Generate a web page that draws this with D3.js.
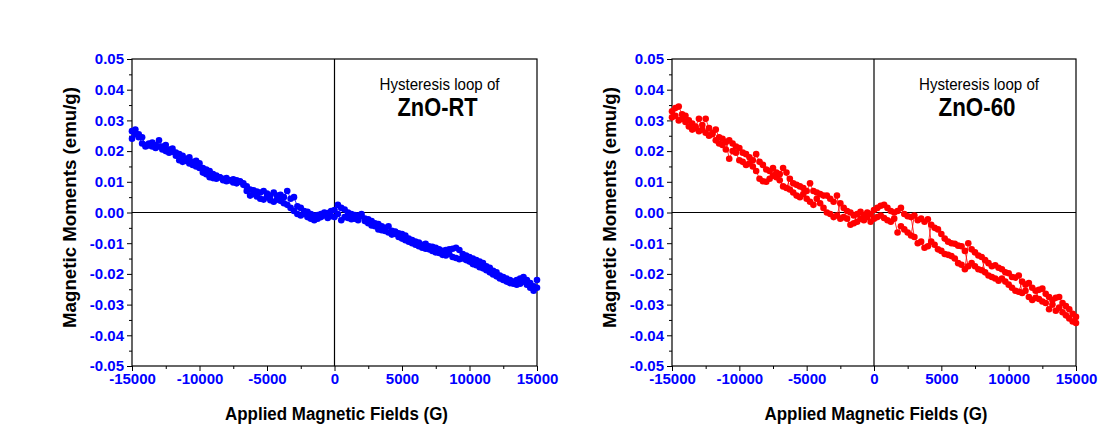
<!DOCTYPE html>
<html><head><meta charset="utf-8">
<script src="https://cdn.jsdelivr.net/npm/d3@7"></script>
<style>body{margin:0;background:#fff}svg{display:block}text{font-family:"Liberation Sans",Arial,sans-serif}</style>
</head><body>
<script>
// Applied field (G) sample grid for each branch
const fields = [-15000,-14750,-14500,-14250,-14000,-13750,-13500,-13250,-13000,-12750,-12500,-12250,-12000,-11750,-11500,-11250,-11000,-10750,-10500,-10250,-10000,-9750,-9500,-9250,-9000,-8750,-8500,-8250,-8000,-7750,-7500,-7250,-7000,-6750,-6500,-6250,-6000,-5750,-5500,-5250,-5000,-4750,-4500,-4250,-4000,-3750,-3500,-3250,-3000,-2750,-2500,-2250,-2000,-1750,-1500,-1250,-1000,-750,-500,-250,0,250,500,750,1000,1250,1500,1750,2000,2250,2500,2750,3000,3250,3500,3750,4000,4250,4500,4750,5000,5250,5500,5750,6000,6250,6500,6750,7000,7250,7500,7750,8000,8250,8500,8750,9000,9250,9500,9750,10000,10250,10500,10750,11000,11250,11500,11750,12000,12250,12500,12750,13000,13250,13500,13750,14000,14250,14500,14750,15000];

// Moments in units of 1e-3 emu/g
const rtDown = [26.5,27,25.5,24.5,22,22.5,22.8,22,23.5,21.5,22,20.5,20.8,19.5,19,18.5,17.5,18,16.5,16.8,14.5,13,12.5,11.5,11.2,12,11.5,11,11.2,10.5,10.8,10.5,10.2,9.5,8.5,7.5,7.2,6.8,6.5,7,6.2,5.5,6.5,5.5,5.8,5,7,4.5,5,2,1.5,0.5,0.2,-0.5,-1,-0.8,-0.5,0,-0.2,0.5,0.8,2.5,1.5,1,0,-0.5,-0.8,-1,-0.5,-2,-2.2,-2.8,-3.5,-3.8,-4.5,-5,-4.5,-6,-6.2,-6.8,-7,-7.5,-8.5,-9,-10.5,-11,-11.5,-11.8,-12,-11.2,-11.5,-12,-12.5,-12.2,-12,-11.8,-11.5,-12.2,-13.5,-14,-14.5,-15,-15.5,-16,-16.5,-17.5,-18,-19,-19.5,-20.5,-21,-21.5,-22,-22.5,-22,-21.5,-21,-22,-23,-24,-22];
const rtUp = [24,25.5,24.5,22.5,21.5,21.8,21.5,21,21.5,20.5,20,19.5,19.8,18.5,17,16.5,16.8,16,15.5,15,16,14.5,14,13.5,12.5,11,11.5,10.5,10.2,10.5,9.8,9.5,10,9,7,5.5,6,5.2,4.5,4.2,5,4,3.5,4.2,3.8,3,2.5,1.5,0.5,-0.5,-1,-0.5,-1.5,-2,-2.5,-2,-1.5,-1,-1.8,-1.2,-1.5,-0.5,-2.5,-1.5,-1.8,-2.2,-2,-2.5,-1.2,-2.8,-3.5,-4.2,-4.5,-5.5,-5.8,-6,-6.5,-7.2,-7,-8,-8.5,-9,-9.5,-10,-9.5,-9.8,-10.5,-10.2,-11,-12.5,-13,-13.2,-13.8,-14,-13.5,-14.5,-14.8,-15.2,-15,-15.5,-16,-16.8,-17.2,-17.8,-18.2,-18.8,-19.5,-20.2,-20.8,-21.5,-22,-22.5,-23,-23.2,-23.5,-23.2,-22.5,-23.5,-24.5,-25.5,-24.5];
const z60Down = [33,34,34.5,32,31.5,30,29,28,30.5,28.5,30.5,27.5,25.5,23.5,22.5,22,20.5,23.5,22.5,21.5,21,19.5,19,18,17,19,16.5,15.5,14,13.5,12,11.5,10.5,8.5,8,11,9.5,9,8.5,8,7,9.5,7,6.5,6,5.5,5.5,4.5,3.5,5.5,-2,-1.5,-2,-4,-3.5,-0.5,0.2,-0.8,0,-0.5,0.8,1.5,2.2,2.5,1.5,0.5,0,0.5,1.5,-0.5,-1.2,-1.5,-8,-10,-9.5,-11.5,-11,-4,-5,-5.5,-7,-8.5,-9.5,-10,-10.2,-10.8,-11,-12.5,-17.5,-16.5,-17.5,-18.5,-18.8,-15.5,-16.5,-17.5,-17.2,-18,-18.5,-19.5,-19.8,-21,-21.2,-20.5,-26.2,-25.5,-27.5,-28.5,-27.8,-25.2,-24.8,-26.5,-27.5,-28.5,-27.8,-27.5,-29.5,-30.5,-31.5,-33,-34];
const z60Up = [31,31.5,30,30.5,29.5,28,27,27.5,26.5,27,26,25,26,27,24.5,24,23,17.5,20,19.5,17,16.5,15.5,16,15,13.5,11,10.2,10,11,14.5,13,12.5,14.5,13,7.5,6.5,5.5,5,6,4.5,3.5,2.5,4.5,3,1.5,0,-0.5,-1.5,-1,3,1.5,0.5,0,-1,-3,-2,-2.5,-1.5,-3,-2,-1.5,-1,-1.8,-2.5,-3,-2,-6.5,-4.5,-5.5,-6.5,-7.5,-1,-2.5,-2,-3,-2.2,-9.5,-10.5,-12,-12.5,-13.5,-13.8,-14.2,-15,-16.5,-17,-18.5,-10,-12,-13,-14,-14.5,-19.5,-20.5,-21,-21.5,-22.2,-21.5,-22.5,-23.5,-24.5,-25.5,-25.8,-22.5,-23.5,-23,-24.5,-25.5,-28.2,-29,-29.5,-31.5,-30,-32,-31,-32.5,-33.5,-34.5,-35.5,-36];

const xTicks = [-15000,-10000,-5000,0,5000,10000,15000];
const xMinor = [-12500,-7500,-2500,2500,7500,12500];
const yTicks = [-50,-40,-30,-20,-10,0,10,20,30,40,50];
const yMinor = [-45,-35,-25,-15,-5,5,15,25,35,45];
const xTitle = "Applied Magnetic Fields (G)";
const yTitle = "Magnetic Moments (emu/g)";
const noteLine1 = "Hysteresis loop of";

const panels = [
  {name:"ZnO-RT", down:rtDown, up:rtUp, color:"#0000ff", x0:132, x1:537, nameLen:80},
  {name:"ZnO-60", down:z60Down, up:z60Up, color:"#ff0000", x0:672, x1:1076, nameLen:77}
];

const W=1117, H=439, y0=59, y1=366;
const svg = d3.select("body").append("svg").attr("width",W).attr("height",H);

panels.forEach(p=>{
  const x = d3.scaleLinear().domain([-15000,15000]).range([p.x0,p.x1]);
  const y = d3.scaleLinear().domain([-50,50]).range([y1,y0]);
  const g = svg.append("g");

  // minor ticks
  g.append("g").attr("transform",`translate(0,${y1})`)
    .call(d3.axisBottom(x).tickValues(xMinor).tickSize(3).tickFormat(""))
    .call(a=>a.select(".domain").remove());
  g.append("g").attr("transform",`translate(${p.x0},0)`)
    .call(d3.axisLeft(y).tickValues(yMinor).tickSize(3).tickFormat(""))
    .call(a=>a.select(".domain").remove());
  // major
  const ax = g.append("g").attr("transform",`translate(0,${y1})`)
    .call(d3.axisBottom(x).tickValues(xTicks).tickSize(5).tickPadding(4).tickFormat(d=>String(d)));
  ax.select(".domain").remove();
  ax.selectAll("text").attr("font-size",15).attr("font-weight","bold").attr("fill","#0000ff")
    .attr("dy",null).attr("y",null).attr("transform","translate(0,18)");
  const ay = g.append("g").attr("transform",`translate(${p.x0},0)`)
    .call(d3.axisLeft(y).tickValues(yTicks).tickSize(5).tickPadding(3).tickFormat(d=>(d/1000).toFixed(2)));
  ay.select(".domain").remove();
  ay.selectAll("text").attr("font-size",15).attr("font-weight","bold").attr("fill","#0000ff");
  g.selectAll(".tick line").attr("stroke","#000");

  // frame and zero lines
  g.append("rect").attr("x",p.x0).attr("y",y0).attr("width",p.x1-p.x0).attr("height",y1-y0)
    .attr("fill","none").attr("stroke","#000").attr("stroke-width",1.2);
  g.append("line").attr("x1",x(0)).attr("x2",x(0)).attr("y1",y0).attr("y2",y1).attr("stroke","#000").attr("stroke-width",1.2);
  g.append("line").attr("x1",p.x0).attr("x2",p.x1).attr("y1",y(0)).attr("y2",y(0)).attr("stroke","#000").attr("stroke-width",1.2);

  // data: descending branch then ascending branch
  const pts = [];
  for(let i=fields.length-1;i>=0;i--) pts.push([fields[i],p.down[i]]);
  for(let i=0;i<fields.length;i++) pts.push([fields[i],p.up[i]]);
  const line = d3.line().x(d=>x(d[0])).y(d=>y(d[1]));
  g.append("path").attr("d",line(pts)).attr("fill","none").attr("stroke",p.color).attr("stroke-width",0.8);
  g.selectAll("circle.pt").data(pts).join("circle").attr("class","pt")
    .attr("cx",d=>x(d[0])).attr("cy",d=>y(d[1])).attr("r",3.3).attr("fill",p.color);

  // annotation
  const cx = (p.x0+p.x1)/2 + 105;
  g.append("text").attr("x",cx).attr("y",90).attr("text-anchor","middle").attr("font-size",17)
    .attr("textLength",120).attr("lengthAdjust","spacingAndGlyphs").text(noteLine1);
  g.append("text").attr("x",cx-2).attr("y",116).attr("text-anchor","middle").attr("font-size",26).attr("font-weight","bold")
    .attr("textLength",p.nameLen).attr("lengthAdjust","spacingAndGlyphs").text(p.name);

  // axis titles
  g.append("text").attr("x",(p.x0+p.x1)/2+2).attr("y",420).attr("text-anchor","middle").attr("font-size",18).attr("font-weight","bold")
    .attr("textLength",223).attr("lengthAdjust","spacingAndGlyphs").text(xTitle);
  g.append("text").attr("transform",`translate(${p.x0-56},207.5) rotate(-90)`).attr("text-anchor","middle")
    .attr("font-size",18).attr("font-weight","bold")
    .attr("textLength",241).attr("lengthAdjust","spacingAndGlyphs").text(yTitle);
});
</script>
</body></html>
